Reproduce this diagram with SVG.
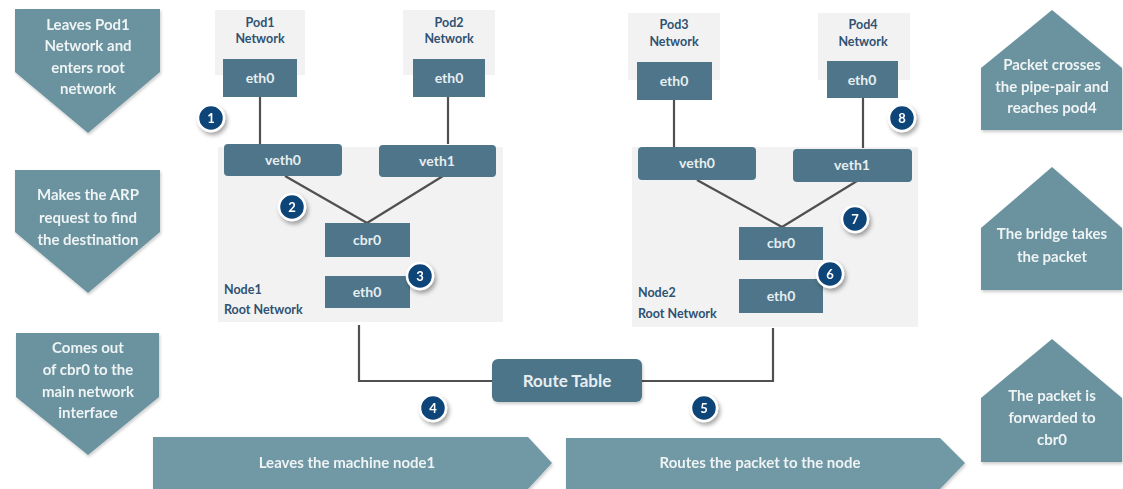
<svg xmlns="http://www.w3.org/2000/svg" width="1123" height="489" viewBox="0 0 1123 489">
  <defs>
    <style>
      .step { fill: #6b939f; }
      .bar { fill: #7198a5; }
      .steptxt { font-family: Lato, "Open Sans", sans-serif; font-weight: 700; font-size: 15px; fill: #eef3f4; text-anchor: middle; }
      .zone { fill: #f2f2f2; }
      .podlbl { font-family: Lato, "Open Sans", sans-serif; font-weight: 700; font-size: 12.5px; fill: #2f5272; text-anchor: middle; }
      .nodelbl { font-family: Lato, "Open Sans", sans-serif; font-weight: 700; font-size: 12.5px; fill: #2f5272; }
      .iface { fill: #4e7589; }
      .iftxt { font-family: Lato, "Open Sans", sans-serif; font-weight: 700; font-size: 14px; fill: #e6eef1; text-anchor: middle; }
      .link { stroke: #505050; stroke-width: 2.2; fill: none; }
      .badge { fill: #0f4478; stroke: #ffffff; stroke-width: 2.5; }
      .badgetxt { font-family: Lato, "Open Sans", sans-serif; font-weight: 700; font-size: 13px; fill: #ffffff; text-anchor: middle; }
    </style>
    <filter id="shadow" x="-30%" y="-30%" width="170%" height="170%">
      <feDropShadow dx="2" dy="3" stdDeviation="2" flood-color="#000" flood-opacity="0.35"/>
    </filter>
    <filter id="soft" x="-5%" y="-5%" width="110%" height="115%">
      <feDropShadow dx="1" dy="2" stdDeviation="1.5" flood-color="#000" flood-opacity="0.2"/>
    </filter>
  </defs>

  <rect width="1123" height="489" fill="#ffffff"/>

  <!-- host network areas -->
  <rect class="zone" x="218" y="147" width="285" height="175"/>
  <rect class="zone" x="632" y="147" width="286" height="180"/>
  <rect class="zone" x="215" y="10" width="90" height="65"/>
  <rect class="zone" x="403" y="10" width="92" height="65"/>
  <rect class="zone" x="628" y="13" width="92" height="67"/>
  <rect class="zone" x="818" y="13" width="92" height="67"/>

  <!-- connectors -->
  <g id="connectors">
    <line class="link" x1="260" y1="97" x2="260" y2="144"/>
    <line class="link" x1="448" y1="97" x2="448" y2="144"/>
    <line class="link" x1="285" y1="176" x2="367" y2="223"/>
    <line class="link" x1="443" y1="176" x2="367" y2="223"/>
    <line class="link" x1="674" y1="100" x2="674" y2="147"/>
    <line class="link" x1="863" y1="98" x2="863" y2="148"/>
    <line class="link" x1="697" y1="180" x2="782" y2="227"/>
    <line class="link" x1="857" y1="181" x2="782" y2="227"/>
    <polyline class="link" points="359,325 359,381 492,381"/>
    <polyline class="link" points="642,381 773,381 773,328"/>
  </g>

  <!-- left step descriptions -->
  <g id="step-leave-pod" filter="url(#soft)">
    <polygon class="step" points="15,9 160,9 160,72 88,133 15,72"/>
    <text class="steptxt" x="88" y="30">Leaves Pod1</text>
    <text class="steptxt" x="88" y="51">Network and</text>
    <text class="steptxt" x="88" y="73">enters root</text>
    <text class="steptxt" x="88" y="94">network</text>
  </g>
  <g id="step-arp" filter="url(#soft)">
    <polygon class="step" points="15,170 160,170 160,232 88,293 15,232"/>
    <text class="steptxt" x="88" y="200">Makes the ARP</text>
    <text class="steptxt" x="88" y="223">request to find</text>
    <text class="steptxt" x="88" y="245">the destination</text>
  </g>
  <g id="step-cbr0-out" filter="url(#soft)">
    <polygon class="step" points="16,333 159,333 159,397 88,455 16,397"/>
    <text class="steptxt" x="88" y="353">Comes out</text>
    <text class="steptxt" x="88" y="375">of cbr0 to the</text>
    <text class="steptxt" x="88" y="397">main network</text>
    <text class="steptxt" x="88" y="418">interface</text>
  </g>

  <!-- right step descriptions -->
  <g id="step-reach-pod4" filter="url(#soft)">
    <polygon class="step" points="1052,10 1122,68 1122,130 981,130 981,68"/>
    <text class="steptxt" x="1052" y="70">Packet crosses</text>
    <text class="steptxt" x="1052" y="92">the pipe-pair and</text>
    <text class="steptxt" x="1052" y="113">reaches pod4</text>
  </g>
  <g id="step-bridge" filter="url(#soft)">
    <polygon class="step" points="1052,167 1122,228 1122,290 981,290 981,228"/>
    <text class="steptxt" x="1052" y="239">The bridge takes</text>
    <text class="steptxt" x="1052" y="262">the packet</text>
  </g>
  <g id="step-forward" filter="url(#soft)">
    <polygon class="step" points="1052,339 1122,398 1122,462 981,462 981,398"/>
    <text class="steptxt" x="1052" y="401">The packet is</text>
    <text class="steptxt" x="1052" y="423">forwarded to</text>
    <text class="steptxt" x="1052" y="445">cbr0</text>
  </g>

  <!-- bottom step bars -->
  <g id="step-leave-node" filter="url(#soft)">
    <polygon class="bar" points="153,437 528,437 552,463 528,489 153,489"/>
    <text class="steptxt" x="347" y="468">Leaves the machine node1</text>
  </g>
  <g id="step-route" filter="url(#soft)">
    <polygon class="bar" points="566,438 940,438 965,463 940,489 566,489"/>
    <text class="steptxt" x="760" y="468">Routes the packet to the node</text>
  </g>

  <!-- Node1 -->
  <g id="pod1">
    <text class="podlbl" x="260" y="27">Pod1</text>
    <text class="podlbl" x="260" y="43">Network</text>
    <rect class="iface" x="223" y="59" width="74" height="38"/>
    <text class="iftxt" x="260" y="83">eth0</text>
  </g>
  <g id="pod2">
    <text class="podlbl" x="449" y="27">Pod2</text>
    <text class="podlbl" x="449" y="43">Network</text>
    <rect class="iface" x="413" y="59" width="72" height="38"/>
    <text class="iftxt" x="449" y="83">eth0</text>
  </g>
  <g id="node1">
    <rect class="iface" x="224" y="144" width="118" height="32" rx="4"/>
    <text class="iftxt" x="283" y="165">veth0</text>
    <rect class="iface" x="379" y="145" width="117" height="32" rx="4"/>
    <text class="iftxt" x="437" y="166">veth1</text>
    <rect class="iface" x="325" y="223" width="85" height="34"/>
    <text class="iftxt" x="367" y="245">cbr0</text>
    <rect class="iface" x="325" y="276" width="85" height="32"/>
    <text class="iftxt" x="367" y="297">eth0</text>
    <text class="nodelbl" x="224" y="294">Node1</text>
    <text class="nodelbl" x="224" y="314">Root Network</text>
  </g>

  <!-- Node2 -->
  <g id="pod3">
    <text class="podlbl" x="674" y="29">Pod3</text>
    <text class="podlbl" x="674" y="46">Network</text>
    <rect class="iface" x="637" y="62" width="75" height="38"/>
    <text class="iftxt" x="674" y="86">eth0</text>
  </g>
  <g id="pod4">
    <text class="podlbl" x="863" y="29">Pod4</text>
    <text class="podlbl" x="863" y="46">Network</text>
    <rect class="iface" x="827" y="61" width="71" height="37"/>
    <text class="iftxt" x="862" y="85">eth0</text>
  </g>
  <g id="node2">
    <rect class="iface" x="638" y="147" width="118" height="33" rx="4"/>
    <text class="iftxt" x="697" y="168">veth0</text>
    <rect class="iface" x="793" y="149" width="119" height="33" rx="4"/>
    <text class="iftxt" x="852" y="170">veth1</text>
    <rect class="iface" x="739" y="227" width="84" height="33"/>
    <text class="iftxt" x="781" y="248">cbr0</text>
    <rect class="iface" x="739" y="279" width="84" height="34"/>
    <text class="iftxt" x="781" y="301">eth0</text>
    <text class="nodelbl" x="638" y="297">Node2</text>
    <text class="nodelbl" x="638" y="318">Root Network</text>
  </g>

  <!-- route table -->
  <g id="route-table">
    <rect class="iface" x="492" y="359" width="150" height="43" rx="6" filter="url(#soft)"/>
    <text class="iftxt" x="567" y="387" style="font-size:17px">Route Table</text>
  </g>

  <!-- numbered badges -->
  <g id="badges">
    <g filter="url(#shadow)"><circle class="badge" cx="211" cy="118" r="13"/><text class="badgetxt" x="211" y="123">1</text></g>
    <g filter="url(#shadow)"><circle class="badge" cx="292" cy="207" r="13"/><text class="badgetxt" x="292" y="212">2</text></g>
    <g filter="url(#shadow)"><circle class="badge" cx="420" cy="276" r="13"/><text class="badgetxt" x="420" y="281">3</text></g>
    <g filter="url(#shadow)"><circle class="badge" cx="433" cy="408" r="13"/><text class="badgetxt" x="433" y="413">4</text></g>
    <g filter="url(#shadow)"><circle class="badge" cx="704" cy="408" r="13"/><text class="badgetxt" x="704" y="413">5</text></g>
    <g filter="url(#shadow)"><circle class="badge" cx="830" cy="274" r="13"/><text class="badgetxt" x="830" y="279">6</text></g>
    <g filter="url(#shadow)"><circle class="badge" cx="855" cy="219" r="13"/><text class="badgetxt" x="855" y="224">7</text></g>
    <g filter="url(#shadow)"><circle class="badge" cx="902" cy="118" r="13"/><text class="badgetxt" x="902" y="123">8</text></g>
  </g>
</svg>
